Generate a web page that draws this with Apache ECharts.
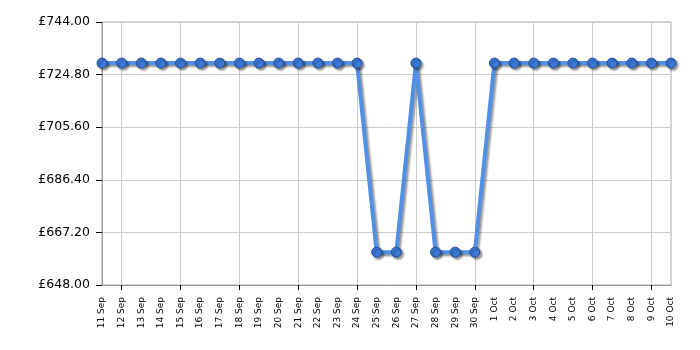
<!DOCTYPE html>
<html>
<head>
<meta charset="utf-8">
<script src="https://cdn.jsdelivr.net/npm/echarts@6/dist/echarts.min.js"></script>
<style>
html,body{margin:0;padding:0;background:#fff;}
#chart{width:700px;height:350px;}
</style>
</head>
<body>
<div id="chart"></div>
<script>
const categories = ['11 Sep','12 Sep','13 Sep','14 Sep','15 Sep','16 Sep','17 Sep','18 Sep','19 Sep','20 Sep','21 Sep','22 Sep','23 Sep','24 Sep','25 Sep','26 Sep','27 Sep','28 Sep','29 Sep','30 Sep','1 Oct','2 Oct','3 Oct','4 Oct','5 Oct','6 Oct','7 Oct','8 Oct','9 Oct','10 Oct'];
const prices = [729,729,729,729,729,729,729,729,729,729,729,729,729,729,660,660,729,660,660,660,729,729,729,729,729,729,729,729,729,729];
const yMin = 648;
const yMax = 744;
const yStep = 19.2;

const chart = echarts.init(document.getElementById('chart'), null, {renderer: 'canvas'});
const everyThird = (i) => i % 3 === 1;
chart.setOption({
  animation: false,
  backgroundColor: '#ffffff',
  grid: {left: 102, right: 29, top: 22, bottom: 65, show: true, borderColor: '#aaaaaa', borderWidth: 1, backgroundColor: 'transparent'},
  xAxis: {
    type: 'category',
    data: categories,
    boundaryGap: false,
    axisLine: {lineStyle: {color: '#999999', width: 1}},
    axisTick: {show: true, interval: everyThird, length: 5, lineStyle: {color: '#000000'}},
    splitLine: {show: true, interval: everyThird, lineStyle: {color: '#cccccc', width: 1}},
    axisLabel: {interval: 0, rotate: 90, margin: 12, color: '#000000', fontFamily: 'DejaVu Sans', fontSize: 9}
  },
  yAxis: {
    type: 'value',
    min: 0,
    max: yMax - yMin,
    interval: yStep,
    axisLine: {show: true, lineStyle: {color: '#999999', width: 1}},
    axisTick: {show: true, length: 6, lineStyle: {color: '#000000'}},
    splitLine: {show: true, lineStyle: {color: '#cccccc', width: 1}},
    axisLabel: {margin: 12, color: '#000000', fontFamily: 'DejaVu Sans', fontSize: 12.5,
      formatter: (v) => '£' + (v + yMin).toFixed(2)}
  },
  series: [{
    type: 'line',
    data: prices.map(v => v - yMin),
    symbol: 'circle',
    symbolSize: 10,
    lineStyle: {color: '#5290e6', width: 4, shadowColor: 'rgba(0,0,0,0.4)', shadowBlur: 2, shadowOffsetX: 2, shadowOffsetY: 2},
    itemStyle: {color: '#3c78d8', borderColor: '#23519c', borderWidth: 1, shadowColor: 'rgba(0,0,0,0.4)', shadowBlur: 2, shadowOffsetX: 2, shadowOffsetY: 2},
    z: 5
  }]
});
</script>
</body>
</html>
